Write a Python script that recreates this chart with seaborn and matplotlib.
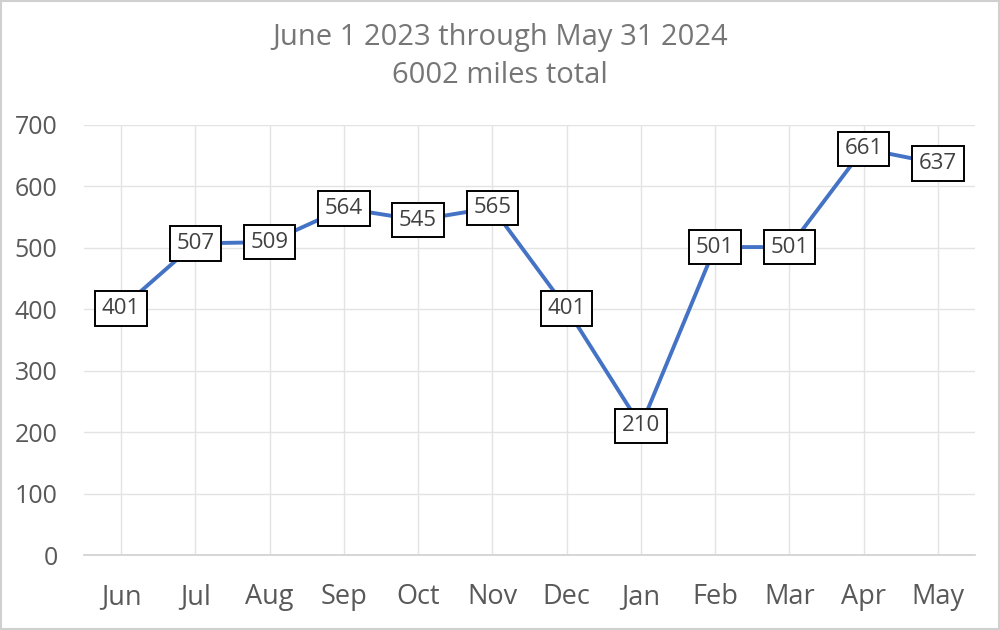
import matplotlib
matplotlib.use("Agg")
import matplotlib.pyplot as plt
import seaborn as sns
import pandas as pd

# data
months = ["Jun", "Jul", "Aug", "Sep", "Oct", "Nov", "Dec", "Jan", "Feb", "Mar", "Apr", "May"]
miles = [401, 507, 509, 564, 545, 565, 401, 210, 501, 501, 661, 637]
title_lines = ["June 1 2023 through May 31 2024", "6002 miles total"]

df = pd.DataFrame({"month": months, "miles": miles})

sns.set_theme(style="white")
plt.rcParams["font.family"] = ["Open Sans", "DejaVu Sans"]

fig = plt.figure(figsize=(10, 6.3), dpi=100)
ax = fig.add_axes([0.084, 0.119, 0.891, 0.683])

sns.lineplot(data=df, x="month", y="miles", ax=ax, color="#4472C4",
             linewidth=2.8, sort=False)

ax.set_ylim(0, 700)
ax.set_xlim(-0.5, len(months) - 0.5)
ax.set_yticks(range(0, 701, 100))
ax.grid(True, color="#E3E3E3", linewidth=1)
ax.set_axisbelow(True)
for s in ["top", "right", "left"]:
    ax.spines[s].set_visible(False)
ax.spines["bottom"].set_color("#D0D0D0")
ax.spines["bottom"].set_linewidth(1.2)
ax.tick_params(axis="both", length=0, labelcolor="#595959")
ax.tick_params(axis="x", labelsize=19.5, pad=20)
ax.tick_params(axis="y", labelsize=18, pad=19)
ax.set_xlabel("")
ax.set_ylabel("")

for i, v in enumerate(miles):
    ax.text(i, v, str(v), ha="center", va="center", fontsize=16, color="#404040",
            bbox=dict(boxstyle="square,pad=0.3", facecolor="white", edgecolor="black", linewidth=1.4))

fig.text(0.5, 0.94, title_lines[0], ha="center", va="center", fontsize=21, color="#767676")
fig.text(0.5, 0.88, title_lines[1], ha="center", va="center", fontsize=21, color="#767676")

fig.patches.append(plt.Rectangle((0.001, 0.001), 0.998, 0.998, transform=fig.transFigure,
                                 fill=False, edgecolor="#D0D0D0", linewidth=1.5))

fig.savefig("out.png", dpi=100)
